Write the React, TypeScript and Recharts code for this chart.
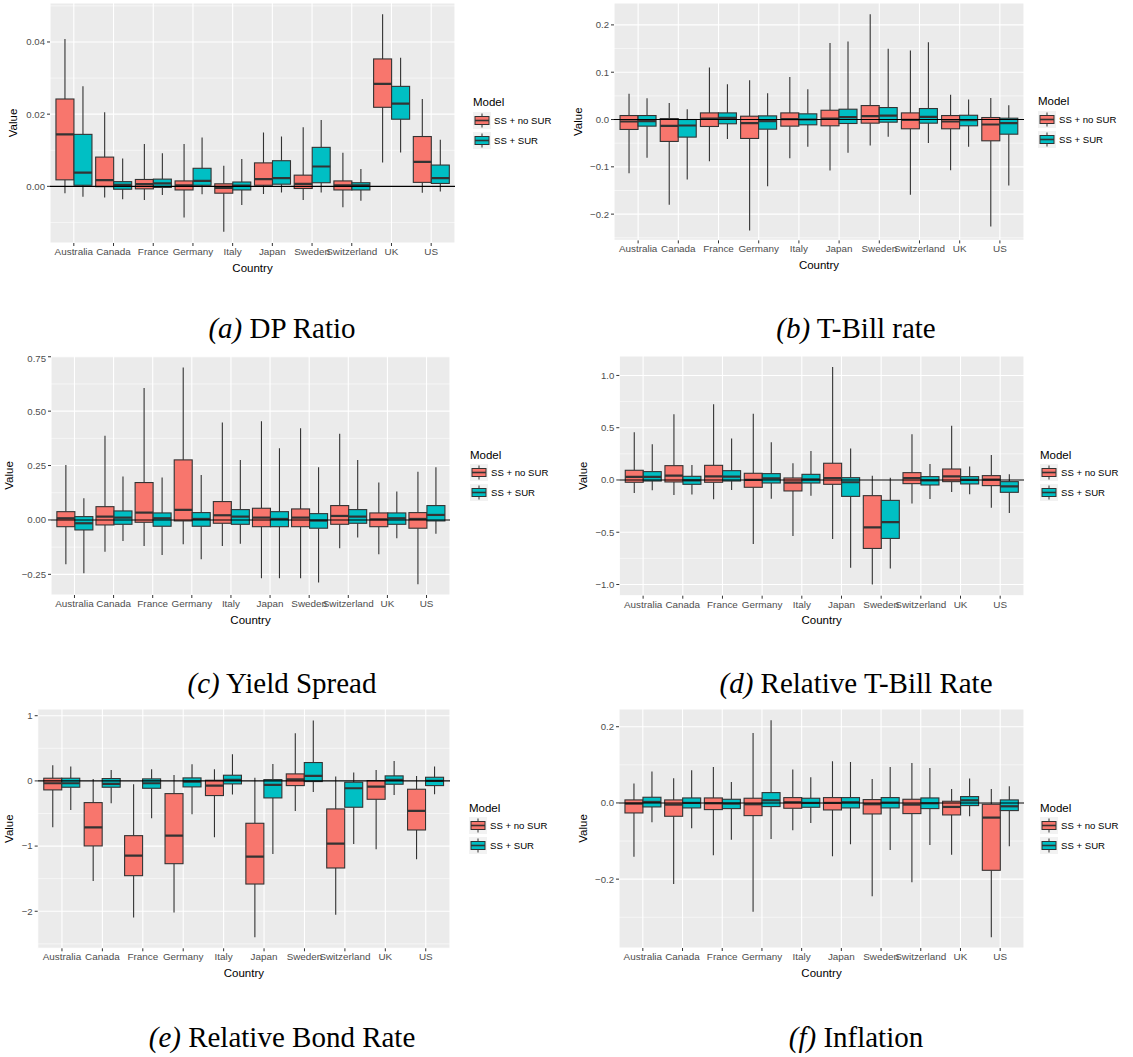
import React from 'react';
import { ComposedChart, Bar, XAxis, YAxis, CartesianGrid, ReferenceLine } from 'recharts';

const countries = ['Australia', 'Canada', 'France', 'Germany', 'Italy', 'Japan', 'Sweden', 'Switzerland', 'UK', 'US'];
const modelNames = ['SS + no SUR', 'SS + SUR'];
const modelColors = ['#F8766D', '#00BFC4'];

// each row: [min, q1, median, q3, max], one row per country
const dpNoSur = [
  [-0.0019, 0.0018, 0.0144, 0.0242, 0.0408],
  [-0.0031, -0.0001, 0.0017, 0.0081, 0.0205],
  [-0.0038, -0.0007, 0.0006, 0.0019, 0.0117],
  [-0.0086, -0.001, 0.0003, 0.0015, 0.0117],
  [-0.0126, -0.0019, -0.0004, 0.0007, 0.0057],
  [-0.0021, 0.0003, 0.002, 0.0065, 0.0149],
  [-0.0038, -0.0006, 0.0007, 0.0031, 0.0164],
  [-0.0058, -0.001, 0.0003, 0.0015, 0.0093],
  [0.0066, 0.0219, 0.0284, 0.0353, 0.0477],
  [-0.0018, 0.0011, 0.0068, 0.0138, 0.0242],
];
const dpSur = [
  [-0.0029, 0.0003, 0.0038, 0.0144, 0.0277],
  [-0.0036, -0.0008, 0.0004, 0.0013, 0.0077],
  [-0.0024, -0.0003, 0.0008, 0.002, 0.0092],
  [-0.0022, 0.0003, 0.0015, 0.005, 0.0135],
  [-0.0052, -0.001, 0.0002, 0.0012, 0.0076],
  [-0.0017, 0.0006, 0.0023, 0.0071, 0.0138],
  [-0.0017, 0.001, 0.0055, 0.0108, 0.0184],
  [-0.004, -0.001, 0.0003, 0.001, 0.0048],
  [0.0094, 0.0186, 0.0229, 0.0277, 0.0356],
  [-0.0014, 0.0008, 0.0023, 0.0059, 0.0129],
];

const tbillNoSur = [
  [-0.1137, -0.021, -0.0042, 0.0084, 0.0547],
  [-0.18, -0.0463, -0.0133, 0.002, 0.035],
  [-0.088, -0.0147, 0.002, 0.014, 0.11],
  [-0.2344, -0.04, -0.0077, 0.007, 0.0828],
  [-0.082, -0.014, 0.0007, 0.014, 0.0898],
  [-0.108, -0.0133, 0.002, 0.0196, 0.162],
  [-0.0547, -0.0077, 0.007, 0.0295, 0.2225],
  [-0.159, -0.0196, -0.0007, 0.014, 0.146],
  [-0.107, -0.0196, -0.0042, 0.0084, 0.0526],
  [-0.226, -0.045, -0.0105, 0.0042, 0.0456],
];
const tbillSur = [
  [-0.0807, -0.014, -0.0035, 0.0084, 0.0449],
  [-0.127, -0.0372, -0.0126, 0.0, 0.0218],
  [-0.0414, -0.009, 0.0035, 0.014, 0.0744],
  [-0.141, -0.0204, -0.0035, 0.0077, 0.0554],
  [-0.0575, -0.0112, 0.0, 0.012, 0.0639],
  [-0.07, -0.0084, 0.005, 0.0218, 0.165],
  [-0.0365, -0.0056, 0.0084, 0.0253, 0.1495],
  [-0.0498, -0.0077, 0.0056, 0.0232, 0.1635],
  [-0.0575, -0.0133, -0.0014, 0.009, 0.0421],
  [-0.1396, -0.031, -0.0077, 0.0028, 0.03],
];

const yieldNoSur = [
  [-0.204, -0.031, 0.0077, 0.038, 0.253],
  [-0.1457, -0.023, 0.0153, 0.061, 0.3865],
  [-0.12, -0.0107, 0.0337, 0.1718, 0.606],
  [-0.112, -0.0046, 0.046, 0.276, 0.701],
  [-0.12, -0.0153, 0.0215, 0.0844, 0.448],
  [-0.268, -0.031, 0.0107, 0.0537, 0.454],
  [-0.268, -0.031, 0.0107, 0.0506, 0.4218],
  [-0.13, -0.02, 0.0184, 0.066, 0.3957],
  [-0.158, -0.031, 0.003, 0.0322, 0.1718],
  [-0.296, -0.038, 0.0046, 0.0337, 0.222],
];
const yieldSur = [
  [-0.245, -0.046, -0.0153, 0.0153, 0.0997],
  [-0.0966, -0.02, 0.0107, 0.0414, 0.1994],
  [-0.161, -0.029, 0.0077, 0.0322, 0.195],
  [-0.181, -0.029, 0.0046, 0.0337, 0.207],
  [-0.11, -0.02, 0.0153, 0.0475, 0.276],
  [-0.268, -0.031, 0.0046, 0.038, 0.33],
  [-0.288, -0.038, -0.003, 0.029, 0.242],
  [-0.081, -0.0153, 0.0153, 0.0475, 0.276],
  [-0.084, -0.02, 0.0077, 0.0322, 0.1304],
  [-0.064, -0.0046, 0.023, 0.066, 0.242],
];

const relTbillNoSur = [
  [-0.125, -0.022, 0.0288, 0.0927, 0.457],
  [-0.144, -0.019, 0.0415, 0.137, 0.629],
  [-0.185, -0.022, 0.035, 0.14, 0.725],
  [-0.613, -0.07, 0.0, 0.064, 0.633],
  [-0.537, -0.105, -0.0256, 0.019, 0.16],
  [-0.565, -0.0415, 0.019, 0.16, 1.08],
  [-1.0, -0.655, -0.454, -0.15, 0.0415],
  [-0.224, -0.035, 0.019, 0.07, 0.438],
  [-0.115, -0.016, 0.035, 0.105, 0.518],
  [-0.265, -0.054, 0.003, 0.0415, 0.24],
];
const relTbillSur = [
  [-0.099, -0.01, 0.0288, 0.08, 0.342],
  [-0.14, -0.0415, -0.003, 0.035, 0.144],
  [-0.096, -0.01, 0.032, 0.089, 0.396],
  [-0.179, -0.029, 0.016, 0.0607, 0.361],
  [-0.15, -0.029, 0.0064, 0.054, 0.278],
  [-0.84, -0.157, -0.022, 0.022, 0.3],
  [-0.847, -0.559, -0.403, -0.195, 0.022],
  [-0.182, -0.048, -0.003, 0.032, 0.153],
  [-0.137, -0.038, 0.0, 0.032, 0.128],
  [-0.316, -0.118, -0.061, -0.016, 0.054],
];

const bondNoSur = [
  [-0.712, -0.138, -0.036, 0.041, 0.24],
  [-1.536, -0.998, -0.712, -0.333, 0.03],
  [-2.094, -1.454, -1.147, -0.84, -0.05],
  [-2.017, -1.27, -0.84, -0.195, 0.092],
  [-0.865, -0.225, -0.072, 0.01, 0.179],
  [-2.4, -1.582, -1.162, -0.65, 0.05],
  [-0.461, -0.072, 0.0256, 0.1075, 0.732],
  [-2.053, -1.336, -0.963, -0.43, 0.067],
  [-1.05, -0.282, -0.087, 0.005, 0.169],
  [-1.203, -0.753, -0.461, -0.128, 0.077],
];
const bondSur = [
  [-0.445, -0.097, -0.036, 0.041, 0.22],
  [-0.343, -0.097, -0.046, 0.036, 0.169],
  [-0.573, -0.113, -0.036, 0.031, 0.179],
  [-0.512, -0.092, -0.01, 0.046, 0.256],
  [-0.21, -0.046, 0.015, 0.087, 0.41],
  [-1.121, -0.261, -0.061, 0.02, 0.261],
  [-0.169, -0.01, 0.0768, 0.2816, 0.927],
  [-0.968, -0.404, -0.113, -0.02, 0.128],
  [-0.215, -0.051, 0.015, 0.077, 0.307],
  [-0.205, -0.072, 0.0, 0.056, 0.22],
];

const inflNoSur = [
  [-0.141, -0.0263, -0.0018, 0.0079, 0.0508],
  [-0.2127, -0.035, -0.0044, 0.0079, 0.0648],
  [-0.1374, -0.0175, -0.0009, 0.0131, 0.0945],
  [-0.2853, -0.0333, -0.0035, 0.0123, 0.1838],
  [-0.0718, -0.014, 0.0018, 0.014, 0.0875],
  [-0.14, -0.0184, 0.0, 0.014, 0.1094],
  [-0.245, -0.0289, -0.0035, 0.0088, 0.063],
  [-0.2083, -0.028, -0.0044, 0.0096, 0.105],
  [-0.1357, -0.0315, -0.0105, 0.0044, 0.0368],
  [-0.3527, -0.1768, -0.0385, -0.0035, 0.0368],
];
const inflSur = [
  [-0.0508, -0.0105, 0.0026, 0.0149, 0.0823],
  [-0.0665, -0.0131, 0.0, 0.0131, 0.0858],
  [-0.0963, -0.0149, -0.0018, 0.0096, 0.0551],
  [-0.0945, -0.0096, 0.007, 0.0271, 0.217],
  [-0.0525, -0.0114, 0.0, 0.0123, 0.0674],
  [-0.1085, -0.0131, 0.0018, 0.014, 0.1077],
  [-0.1234, -0.0131, 0.0009, 0.014, 0.0945],
  [-0.1103, -0.0149, -0.0009, 0.0131, 0.0919],
  [-0.035, -0.007, 0.007, 0.0166, 0.0639],
  [-0.1138, -0.0201, -0.0088, 0.0079, 0.0438],
];

// axis ticks (major) and minor grid values
const dpTicks = [0, 0.02, 0.04];
const dpMinor = [-0.01, 0.01, 0.03, 0.05];
const tbillTicks = [-0.2, -0.1, 0, 0.1, 0.2];
const tbillMinor = [-0.25, -0.15, -0.05, 0.05, 0.15];
const yieldTicks = [-0.25, 0, 0.25, 0.5, 0.75];
const yieldMinor = [-0.125, 0.125, 0.375, 0.625];
const relTbillTicks = [-1, -0.5, 0, 0.5, 1];
const relTbillMinor = [-0.75, -0.25, 0.25, 0.75];
const bondTicks = [-2, -1, 0, 1];
const bondMinor = [-2.5, -1.5, -0.5, 0.5];
const inflTicks = [-0.2, 0, 0.2];
const inflMinor = [-0.3, -0.1, 0.1];

const panels = [
  { tag: '(a)', title: 'DP Ratio', noSur: dpNoSur, sur: dpSur, ticks: dpTicks, minor: dpMinor, digits: 2,
    domain: [-0.0157, 0.0508], l: 50, t: 3.3, r: 455, b: 243.3, labelX: 13.3, legendX: 473, capX: 282, capY: 328 },
  { tag: '(b)', title: 'T-Bill rate', noSur: tbillNoSur, sur: tbillSur, ticks: tbillTicks, minor: tbillMinor, digits: 1,
    domain: [-0.2555, 0.2463], l: 614, t: 3.3, r: 1024, b: 240.7, labelX: 578.3, legendX: 1038, capX: 856, capY: 328 },
  { tag: '(c)', title: 'Yield Spread', noSur: yieldNoSur, sur: yieldSur, ticks: yieldTicks, minor: yieldMinor, digits: 2,
    domain: [-0.345, 0.7535], l: 51, t: 356, r: 450, b: 595, labelX: 9.3, legendX: 470, capX: 282, capY: 683 },
  { tag: '(d)', title: 'Relative T-Bill Rate', noSur: relTbillNoSur, sur: relTbillSur, ticks: relTbillTicks, minor: relTbillMinor, digits: 1,
    domain: [-1.107, 1.186], l: 619.3, t: 356, r: 1024, b: 595.7, labelX: 583.3, legendX: 1040, capX: 856, capY: 683 },
  { tag: '(e)', title: 'Relative Bond Rate', noSur: bondNoSur, sur: bondSur, ticks: bondTicks, minor: bondMinor, digits: 0,
    domain: [-2.568, 1.103], l: 37.7, t: 709, r: 450, b: 948.3, labelX: 9.3, legendX: 469, capX: 282, capY: 1037 },
  { tag: '(f)', title: 'Inflation', noSur: inflNoSur, sur: inflSur, ticks: inflTicks, minor: inflMinor, digits: 1,
    domain: [-0.3807, 0.2465], l: 619, t: 709.3, r: 1024, b: 948.3, labelX: 583.3, legendX: 1040, capX: 856, capY: 1037 },
];

const sans = '"Liberation Sans", Arial, Helvetica, sans-serif';
const serif = '"Liberation Serif", "Times New Roman", serif';
const edge = '#333333';

const fmtTick = (v: number, digits: number) => v.toFixed(digits).replace('-', '\u2212');

// draws one box + whiskers; the bar itself spans [min, max] so we place the quartiles inside it
const boxShape = (key: string, fill: string) => (props: any) => {
  const { x, y, width, height, payload } = props;
  const [mn, q1, md, q3, mx] = payload[key];
  const py = (v: number) => y + ((mx - v) / (mx - mn)) * height;
  const cx = x + width / 2;
  return (
    <g>
      <line x1={cx} x2={cx} y1={py(mx)} y2={py(q3)} stroke={edge} strokeWidth={1.1} />
      <line x1={cx} x2={cx} y1={py(q1)} y2={py(mn)} stroke={edge} strokeWidth={1.1} />
      <rect x={x} y={py(q3)} width={width} height={py(q1) - py(q3)} fill={fill} stroke={edge} strokeWidth={1.1} />
      <line x1={x} x2={x + width} y1={py(md)} y2={py(md)} stroke={edge} strokeWidth={2.2} />
    </g>
  );
};

const BoxPanel = ({ p }: { p: any }) => {
  const left = p.l < 560 ? 0 : 565;
  const top = p.t - 3;
  const width = p.r + 10 - left;
  const height = p.b + 40 - top;
  const pad = ((p.r - p.l) / 10.2) * 0.1;
  const data = countries.map((c, i) => ({ country: c, a: p.noSur[i], b: p.sur[i] }));

  return (
    <div style={{ position: 'absolute', left, top }}>
      <ComposedChart
        width={width}
        height={height}
        data={data}
        margin={{ top: 3, right: 10, left: 0, bottom: 0 }}
        barCategoryGap="5%"
        barGap={0}
      >
        <CartesianGrid fill="#EBEBEB" stroke="#FFFFFF" strokeWidth={0.55} horizontalValues={p.minor} vertical={false} />
        <CartesianGrid stroke="#FFFFFF" strokeWidth={1.1} />
        <XAxis
          dataKey="country"
          interval={0}
          height={40}
          padding={{ left: pad, right: pad }}
          axisLine={false}
          tickSize={3}
          tickLine={{ stroke: edge }}
          tickMargin={2}
          tick={{ fill: '#4D4D4D', fontSize: 9.9, fontFamily: sans }}
          label={(lp: any) => {
            const vb = lp.viewBox;
            return (
              <text x={vb.x + vb.width / 2} y={vb.y + 24.5} textAnchor="middle" dominantBaseline="central"
                fontSize={11.5} fontFamily={sans} fill="#000">Country</text>
            );
          }}
        />
        <YAxis
          type="number"
          domain={p.domain}
          ticks={p.ticks}
          allowDataOverflow
          width={p.l - left}
          axisLine={false}
          tickSize={3}
          tickLine={{ stroke: edge }}
          tickMargin={2}
          tick={{ fill: '#4D4D4D', fontSize: 9.6, fontFamily: sans }}
          tickFormatter={(v: number) => fmtTick(v, p.digits)}
          label={(lp: any) => {
            const vb = lp.viewBox;
            const lx = p.labelX - left;
            const ly = vb.y + vb.height / 2;
            return (
              <text x={lx} y={ly} transform={`rotate(-90 ${lx} ${ly})`} textAnchor="middle" dominantBaseline="central"
                fontSize={11.5} fontFamily={sans} fill="#000">Value</text>
            );
          }}
        />
        <Bar dataKey={(d: any) => [d.a[0], d.a[4]]} shape={boxShape('a', modelColors[0])} isAnimationActive={false} />
        <Bar dataKey={(d: any) => [d.b[0], d.b[4]]} shape={boxShape('b', modelColors[1])} isAnimationActive={false} />
        <ReferenceLine y={0} stroke="#000000" strokeWidth={1.1} />
      </ComposedChart>
    </div>
  );
};

const LegendKey = ({ fill }: { fill: string }) => (
  <svg width={18} height={17} style={{ display: 'block' }}>
    <rect x={0} y={0} width={18} height={17} fill="#F2F2F2" />
    <line x1={9} x2={9} y1={1.5} y2={15.5} stroke={edge} strokeWidth={1} />
    <rect x={2} y={4.5} width={14} height={8} fill={fill} stroke={edge} strokeWidth={1} />
    <line x1={2} x2={16} y1={8.5} y2={8.5} stroke={edge} strokeWidth={1.6} />
  </svg>
);

const ModelLegend = ({ x, y }: { x: number; y: number }) => (
  <div style={{ position: 'absolute', left: x, top: y - 8, fontFamily: sans, color: '#000' }}>
    <div style={{ fontSize: 11.5, lineHeight: '16px', height: 16 }}>Model</div>
    {modelNames.map((m, i) => (
      <div key={m} style={{ display: 'flex', alignItems: 'center', height: 20 }}>
        <LegendKey fill={modelColors[i]} />
        <span style={{ fontSize: 9.6, marginLeft: 3, whiteSpace: 'nowrap' }}>{m}</span>
      </div>
    ))}
  </div>
);

const Caption = ({ x, y, tag, title }: { x: number; y: number; tag: string; title: string }) => (
  <div style={{ position: 'absolute', left: x - 250, top: y - 17, width: 500, textAlign: 'center',
    fontFamily: serif, fontSize: 29, lineHeight: '34px', color: '#000' }}>
    <i>{tag}</i> {title}
  </div>
);

export default function App() {
  return (
    <div style={{ position: 'absolute', left: 0, top: 0, width: 1133, height: 1057, background: '#FFFFFF' }}>
      {panels.map((p) => (
        <React.Fragment key={p.tag}>
          <BoxPanel p={p} />
          <ModelLegend x={p.legendX} y={(p.t + p.b) / 2 - 21} />
          <Caption x={p.capX} y={p.capY} tag={p.tag} title={p.title} />
        </React.Fragment>
      ))}
    </div>
  );
}
